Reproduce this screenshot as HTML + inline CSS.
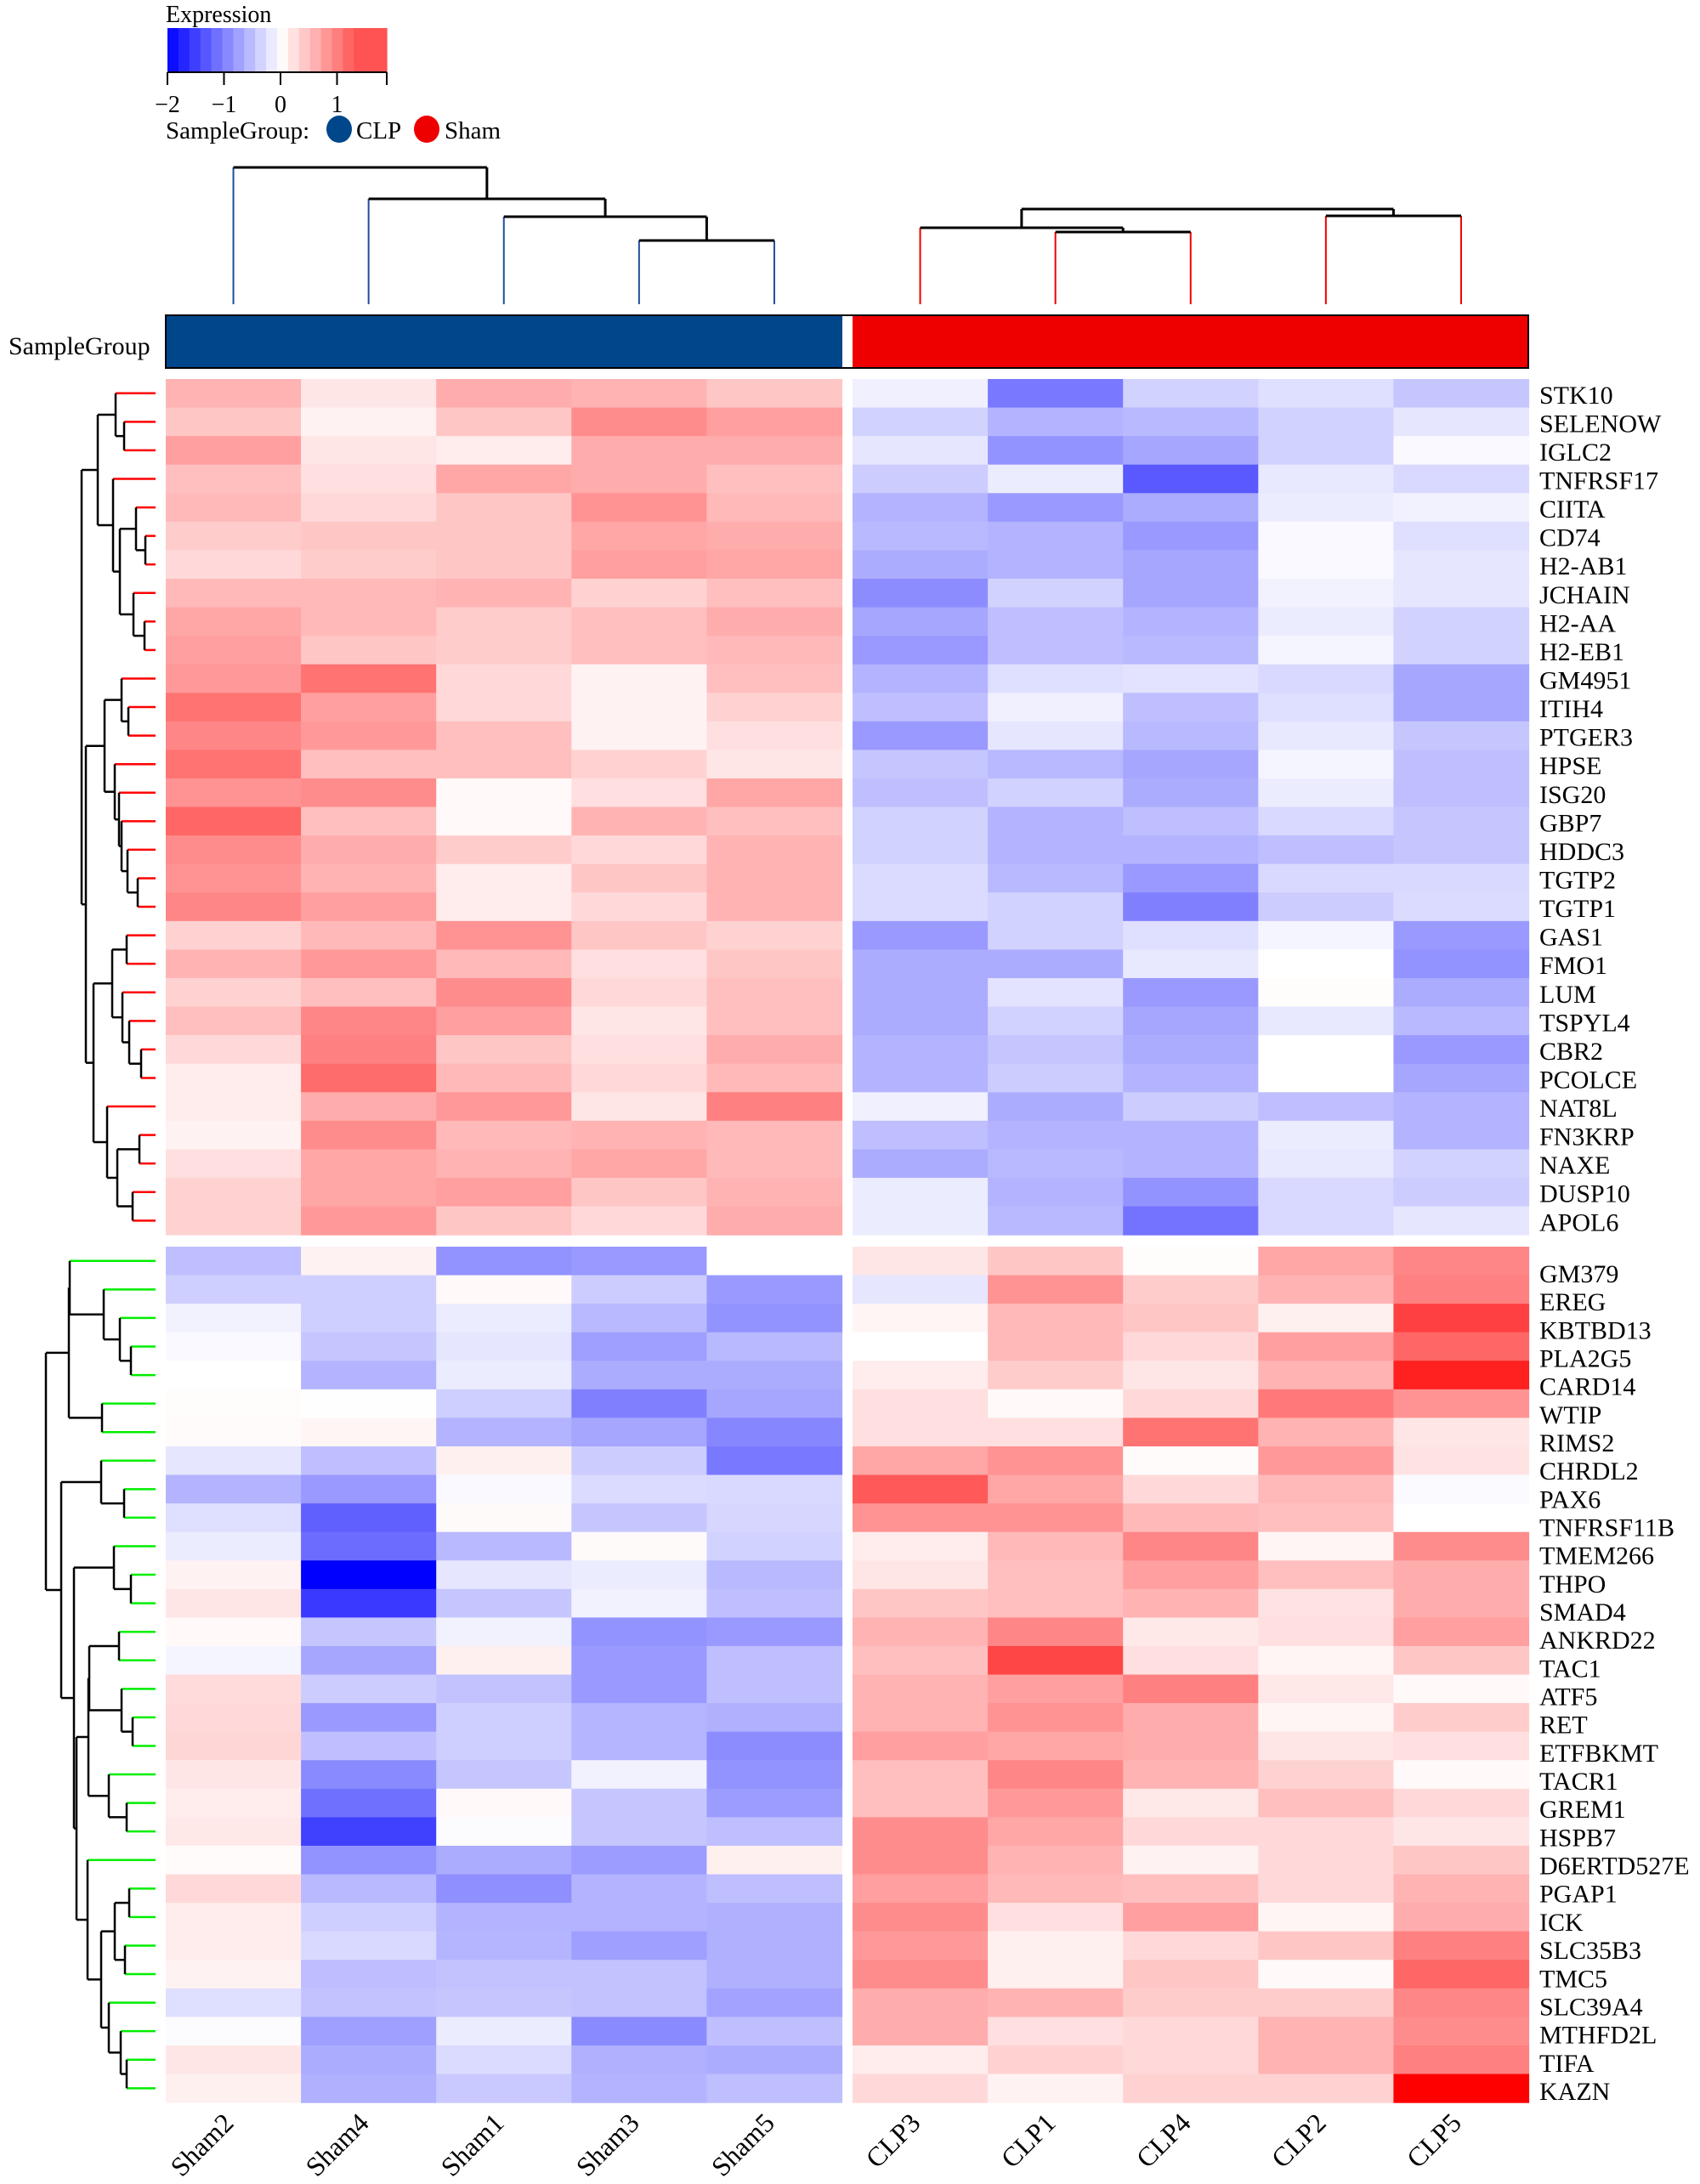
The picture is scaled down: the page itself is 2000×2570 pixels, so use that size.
<!DOCTYPE html>
<html><head><meta charset="utf-8">
<style>
html,body{margin:0;padding:0;background:#fff;}
svg{display:block;font-family:"Liberation Serif",serif;}
</style></head>
<body>
<svg id="chart" width="2000" height="2570" viewBox="0 0 2000 2570" xmlns="http://www.w3.org/2000/svg"></svg>
<script>
const colLabelsL = ["Sham2","Sham4","Sham1","Sham3","Sham5"];
const colLabelsR = ["CLP3","CLP1","CLP4","CLP2","CLP5"];
const genesUpper = ["STK10","SELENOW","IGLC2","TNFRSF17","CIITA","CD74","H2-AB1","JCHAIN","H2-AA","H2-EB1","GM4951","ITIH4","PTGER3","HPSE","ISG20","GBP7","HDDC3","TGTP2","TGTP1","GAS1","FMO1","LUM","TSPYL4","CBR2","PCOLCE","NAT8L","FN3KRP","NAXE","DUSP10","APOL6"];
const genesLower = ["GM379","EREG","KBTBD13","PLA2G5","CARD14","WTIP","RIMS2","CHRDL2","PAX6","TNFRSF11B","TMEM266","THPO","SMAD4","ANKRD22","TAC1","ATF5","RET","ETFBKMT","TACR1","GREM1","HSPB7","D6ERTD527E","PGAP1","ICK","SLC35B3","TMC5","SLC39A4","MTHFD2L","TIFA","KAZN"];
const upperLeft = [
[0.6,0.2,0.65,0.6,0.45],[0.45,0.1,0.45,0.9,0.75],[0.75,0.2,0.15,0.65,0.65],[0.5,0.25,0.7,0.65,0.5],[0.55,0.3,0.45,0.85,0.55],
[0.4,0.45,0.45,0.7,0.65],[0.3,0.4,0.45,0.75,0.7],[0.55,0.55,0.6,0.35,0.5],[0.7,0.55,0.4,0.5,0.65],[0.75,0.45,0.4,0.5,0.55],
[0.8,1.1,0.3,0.1,0.5],[1.1,0.75,0.3,0.1,0.35],[0.95,0.8,0.5,0.1,0.25],[1.1,0.5,0.5,0.35,0.2],[0.85,0.9,0.05,0.25,0.7],
[1.2,0.5,0.05,0.6,0.5],[0.9,0.65,0.4,0.3,0.6],[0.85,0.6,0.15,0.45,0.6],[0.95,0.75,0.15,0.3,0.6],[0.35,0.55,0.85,0.45,0.35],
[0.6,0.8,0.55,0.25,0.45],[0.35,0.5,0.9,0.3,0.5],[0.5,0.95,0.75,0.2,0.5],[0.3,1.0,0.45,0.25,0.65],[0.15,1.15,0.55,0.3,0.55],
[0.15,0.65,0.8,0.2,1.0],[0.1,0.9,0.55,0.6,0.55],[0.25,0.7,0.6,0.7,0.55],[0.35,0.7,0.75,0.45,0.6],[0.35,0.8,0.45,0.3,0.65]];
const upperRight = [
[-0.12,-1.05,-0.35,-0.25,-0.45],[-0.35,-0.6,-0.55,-0.35,-0.2],[-0.2,-0.85,-0.7,-0.35,-0.05],[-0.4,-0.15,-1.3,-0.18,-0.3],[-0.6,-0.8,-0.65,-0.15,-0.1],
[-0.55,-0.6,-0.8,-0.05,-0.25],[-0.65,-0.6,-0.7,-0.05,-0.2],[-0.9,-0.35,-0.7,-0.1,-0.2],[-0.7,-0.5,-0.6,-0.15,-0.35],[-0.8,-0.5,-0.55,-0.08,-0.35],
[-0.6,-0.25,-0.22,-0.3,-0.7],[-0.5,-0.12,-0.5,-0.25,-0.7],[-0.8,-0.2,-0.55,-0.18,-0.45],[-0.45,-0.55,-0.7,-0.08,-0.5],[-0.5,-0.35,-0.65,-0.15,-0.5],
[-0.35,-0.6,-0.5,-0.3,-0.45],[-0.35,-0.6,-0.6,-0.5,-0.45],[-0.28,-0.55,-0.8,-0.3,-0.3],[-0.28,-0.35,-1.0,-0.4,-0.28],[-0.8,-0.35,-0.25,-0.08,-0.8],
[-0.65,-0.65,-0.18,0.0,-0.85],[-0.65,-0.22,-0.8,0.02,-0.65],[-0.65,-0.35,-0.7,-0.18,-0.55],[-0.6,-0.45,-0.65,0.0,-0.8],[-0.6,-0.4,-0.6,0.0,-0.7],
[-0.12,-0.65,-0.4,-0.5,-0.6],[-0.5,-0.6,-0.6,-0.15,-0.6],[-0.65,-0.55,-0.6,-0.18,-0.35],[-0.15,-0.6,-0.85,-0.3,-0.4],[-0.15,-0.55,-1.1,-0.3,-0.2]];
const lowerLeft = [
[-0.5,0.1,-0.85,-0.8,0.0],[-0.38,-0.38,0.05,-0.4,-0.8],[-0.1,-0.38,-0.15,-0.55,-0.85],[-0.05,-0.45,-0.2,-0.75,-0.55],[0.0,-0.6,-0.15,-0.65,-0.65],
[0.02,0.01,-0.38,-1.0,-0.7],[0.03,0.08,-0.6,-0.7,-0.95],[-0.2,-0.5,0.12,-0.4,-1.05],[-0.6,-0.8,-0.05,-0.28,-0.3],[-0.25,-1.25,0.04,-0.45,-0.32],
[-0.15,-1.15,-0.55,0.04,-0.35],[0.1,-2.0,-0.2,-0.15,-0.55],[0.2,-1.55,-0.45,-0.1,-0.5],[0.05,-0.45,-0.1,-0.85,-0.8],[-0.08,-0.7,0.12,-0.8,-0.5],
[0.28,-0.4,-0.48,-0.8,-0.5],[0.3,-0.8,-0.38,-0.58,-0.62],[0.32,-0.5,-0.38,-0.58,-0.9],[0.2,-0.92,-0.45,-0.1,-0.85],[0.15,-1.12,0.05,-0.45,-0.78],
[0.18,-1.5,-0.02,-0.45,-0.5],[0.03,-0.85,-0.65,-0.78,0.12],[0.3,-0.55,-0.88,-0.6,-0.5],[0.15,-0.38,-0.6,-0.6,-0.62],[0.15,-0.3,-0.58,-0.75,-0.62],
[0.1,-0.52,-0.48,-0.48,-0.62],[-0.25,-0.48,-0.45,-0.48,-0.72],[-0.02,-0.75,-0.15,-0.92,-0.5],[0.2,-0.65,-0.28,-0.62,-0.65],[0.12,-0.62,-0.42,-0.6,-0.5]];
const lowerRight = [
[0.2,0.45,0.02,0.7,0.95],[-0.2,0.85,0.4,0.6,1.0],[0.08,0.55,0.45,0.12,1.5],[0.0,0.55,0.3,0.75,1.2],[0.15,0.4,0.2,0.6,1.75],
[0.25,0.05,0.3,1.05,0.85],[0.25,0.25,1.1,0.6,0.2],[0.7,0.85,0.03,0.8,0.22],[1.3,0.7,0.3,0.55,-0.03],[0.85,0.85,0.55,0.5,0.0],
[0.15,0.55,0.95,0.08,0.9],[0.2,0.5,0.75,0.5,0.65],[0.45,0.5,0.6,0.22,0.65],[0.6,0.95,0.18,0.25,0.75],[0.5,1.45,0.25,0.08,0.45],
[0.6,0.75,1.0,0.18,0.05],[0.6,0.85,0.65,0.08,0.4],[0.75,0.7,0.65,0.2,0.25],[0.5,0.95,0.6,0.35,0.05],[0.5,0.8,0.18,0.5,0.3],
[0.9,0.7,0.3,0.3,0.2],[0.9,0.6,0.1,0.3,0.45],[0.75,0.55,0.5,0.3,0.6],[0.9,0.25,0.75,0.08,0.65],[0.8,0.12,0.3,0.45,1.0],
[0.9,0.12,0.45,0.05,1.2],[0.65,0.6,0.4,0.4,0.95],[0.65,0.25,0.3,0.6,0.9],[0.15,0.35,0.3,0.6,1.0],[0.3,0.1,0.35,0.35,2.0]];
// dendrogram merges: [left, right, height]
const rowTreeUpper = [[[0,[1,2,37],47],[3,[[4,[5,6,12],23],[7,[8,9,13],26],42],50],68],
  [[[10,[11,12,32],40],[13,[14,[15,[16,[17,18,21],33],40],43],48],60],
   [[[19,20,34],[21,[22,[23,24,17],31],39],51],[25,[[26,27,19],[28,29,27],45],57],73],82],87];
const rowTreeLower = [[[0,[1,[2,[3,4,29],42],61],101],[5,6,63],102],
  [[7,[8,9,37],64],[[10,[11,12,29],49],[[[[13,14,43],[15,[16,17,27],40],78],[18,[19,20,34],55],79],
   [21,[[[22,23,31],[24,25,36],48],[26,[27,[28,29,34],41],55],64],80],93],96],111],129];
const colTreeLeft = [0,[1,[2,[3,4,75],103],124],161];
const colTreeRight = [[0,[1,2,85],90],[3,4,104],112];
const legendTicks = [-2,-1,0,1];

const NS="http://www.w3.org/2000/svg";
const svg=document.getElementById('chart');
function mk(tag,attrs,parent){const e=document.createElementNS(NS,tag);for(const k in attrs)e.setAttribute(k,attrs[k]);(parent||svg).appendChild(e);return e;}
function color(v){v=Math.max(-2,Math.min(2,v));
  if(v>=0){const g=Math.round(255*(1-v/2));return `rgb(255,${g},${g})`;}
  const r=Math.round(255*(1+v/2));return `rgb(${r},${r},255)`;}
const cellW=159.1, rowH=33.57;
const xL0=195, xR0=1003, yU0=446, yD0=1467;
const xCol=(side,j)=>(side?xR0:xL0)+j*cellW;
const yRow=(blk,i)=>(blk?yD0:yU0)+i*rowH;

const blocks=[[upperLeft,0,0],[upperRight,1,0],[lowerLeft,0,1],[lowerRight,1,1]];
blocks.forEach(([data,side,blk])=>{
  data.forEach((row,i)=>row.forEach((v,j)=>{
    const r=mk('rect',{x:xCol(side,j),y:yRow(blk,i),width:cellW+0.6,height:rowH+0.6,fill:color(v)});
    
    
  }));
});
genesUpper.forEach((g,i)=>{const t=mk('text',{x:1811,y:yRow(0,i)+rowH/2+12,'font-size':30,fill:'#000'});t.textContent=g;
  });
genesLower.forEach((g,i)=>{const t=mk('text',{x:1811,y:1499+i*33.17+10,'font-size':30,fill:'#000'});t.textContent=g;
  });
[[colLabelsL,0],[colLabelsR,1]].forEach(([labs,side])=>labs.forEach((l,j)=>{
  const cx=xCol(side,j)+cellW/2+2, cy=2500;
  const t=mk('text',{x:cx,y:cy,'font-size':32,'text-anchor':'end',transform:`rotate(-45 ${cx} ${cy})`});t.textContent=l;
  }));

function drawRowTree(tree,blk,leafColor,name){
  const g=mk('g',{});
  const xLeaf=183;
  function rec(n){
    if(typeof n==='number') return {x:xLeaf,y:yRow(blk,n)+rowH/2,leaf:true};
    const a=rec(n[0]),b=rec(n[1]);const x=xLeaf-n[2];
    [a,b].forEach(c=>mk('line',{x1:x,y1:c.y,x2:c.x,y2:c.y,stroke:c.leaf?leafColor:'#000','stroke-width':2.5},g));
    mk('line',{x1:x,y1:a.y,x2:x,y2:b.y,stroke:'#000','stroke-width':2.5},g);
    return {x:x,y:(a.y+b.y)/2,leaf:false};
  }
  rec(tree);
}
drawRowTree(rowTreeUpper,0,'#ff0000','row-dendrogram-upper');
drawRowTree(rowTreeLower,1,'#00ee00','row-dendrogram-lower');
function drawColTree(tree,side,leafColor,name){
  const g=mk('g',{});
  const yLeaf=358;
  function rec(n){
    if(typeof n==='number') return {x:xCol(side,n)+cellW/2,y:yLeaf,leaf:true};
    const a=rec(n[0]),b=rec(n[1]);const y=yLeaf-n[2];
    [a,b].forEach(c=>mk('line',{x1:c.x,y1:y,x2:c.x,y2:c.y,stroke:c.leaf?leafColor:'#000','stroke-width':c.leaf?2:3},g));
    mk('line',{x1:a.x,y1:y,x2:b.x,y2:y,stroke:'#000','stroke-width':3},g);
    return {x:(a.x+b.x)/2,y:y,leaf:false};
  }
  rec(tree);
}
drawColTree(colTreeLeft,0,'#1f4e9a','col-dendrogram-sham');
drawColTree(colTreeRight,1,'#ee0000','col-dendrogram-clp');

let a=mk('rect',{x:195,y:371,width:796,height:62,fill:'#00468b'});
a=mk('rect',{x:1003,y:371,width:795,height:62,fill:'#ee0000'});
a=mk('rect',{x:195,y:371,width:1603,height:62,fill:'none',stroke:'#000','stroke-width':2});
a=mk('text',{x:10,y:417,'font-size':30});a.textContent='SampleGroup';

a=mk('text',{x:195,y:26,'font-size':28});a.textContent='Expression';
const lgX=v=>197+(v+2)*66.5;
const steps=20;
for(let k=0;k<steps;k++){
  const v0=-2+k*(3.88/steps);
  const r=mk('rect',{x:lgX(v0),y:33,width:3.88/steps*66.5+0.6,height:52,fill:color(Math.min(v0+0.1,1.35))});
  
}
mk('line',{x1:lgX(-2),y1:85,x2:lgX(1.88),y2:85,stroke:'#000','stroke-width':2});
legendTicks.concat([1.88]).forEach(v=>{mk('line',{x1:lgX(v),y1:85,x2:lgX(v),y2:100,stroke:'#000','stroke-width':2});});
legendTicks.forEach(v=>{const t=mk('text',{x:lgX(v),y:132,'font-size':28,'text-anchor':'middle'});t.textContent=(v<0?'\u2212'+(-v):String(v));
  });
a=mk('text',{x:195,y:163,'font-size':29});a.textContent='SampleGroup:';
a=mk('ellipse',{cx:399,cy:152,rx:15,ry:16,fill:'#00468b'});
a=mk('text',{x:419,y:163,'font-size':29});a.textContent='CLP';
a=mk('ellipse',{cx:502,cy:152,rx:15,ry:16,fill:'#ee0000'});
a=mk('text',{x:523,y:163,'font-size':29});a.textContent='Sham';
</script>
</body></html>
